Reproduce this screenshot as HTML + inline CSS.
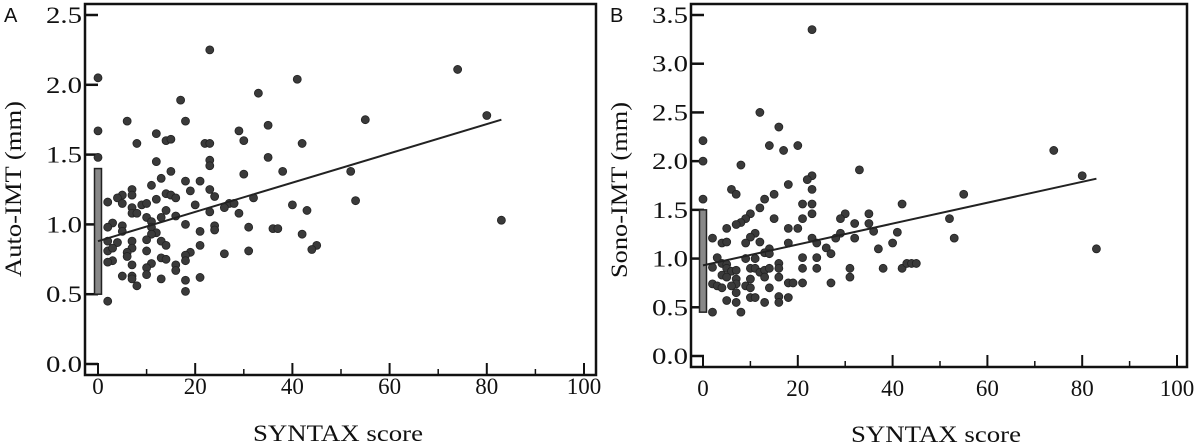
<!DOCTYPE html>
<html><head><meta charset="utf-8"><style>
html,body{margin:0;padding:0;background:#fff;}
svg{display:block;font-family:"Liberation Serif",serif;}
</style></head><body>
<svg id="chart" width="1200" height="444" viewBox="0 0 1200 444" xmlns="http://www.w3.org/2000/svg"></svg>
<script>
// ---- Panel A data (Auto-IMT) ----
const aX = [23,0,74,41,33,17,0,6,18,55,80,12,8,14,15,29,35,42,22,23,30,0,35,12,23,23,15,38,30,52,13,18,21,11,7,7,23,14,15,16,19,24,2,5,4,12,53,32,27,28,26,20,40,5,9,10,43,14,29,7,7,8,23,10,11,13,16,83,3,18,24,24,31,36,37,21,2,5,5,11,12,11,42,2,4,7,10,13,14,45,44,21,2,3,7,6,6,10,31,19,26,18,18,3,2,13,14,11,7,10,16,16,5,7,7,10,21,13,18,8,18,2];
const aY = [2.25,2.05,2.11,2.04,1.94,1.89,1.67,1.74,1.74,1.75,1.78,1.65,1.58,1.60,1.61,1.67,1.71,1.58,1.58,1.58,1.60,1.48,1.48,1.45,1.46,1.42,1.38,1.38,1.36,1.38,1.33,1.31,1.31,1.28,1.25,1.21,1.25,1.22,1.21,1.19,1.24,1.20,1.16,1.21,1.19,1.18,1.17,1.19,1.15,1.15,1.12,1.14,1.14,1.15,1.14,1.15,1.10,1.10,1.08,1.12,1.08,1.08,1.09,1.05,1.02,1.05,1.06,1.03,1.01,1.00,0.99,0.96,0.98,0.97,0.97,0.95,0.98,0.99,0.95,0.98,0.94,0.93,0.93,0.88,0.87,0.88,0.89,0.88,0.85,0.85,0.82,0.85,0.81,0.83,0.83,0.80,0.77,0.81,0.81,0.80,0.79,0.78,0.74,0.74,0.73,0.76,0.75,0.72,0.71,0.69,0.71,0.67,0.63,0.63,0.61,0.64,0.62,0.61,0.60,0.56,0.52,0.45];
const aZeroMin = [0.50]; const aZeroMax = [1.40];
const aFit = [0.88, 1.75];
const aFitX = [0, 83];

// ---- Panel B data (Sono-IMT) ----
const bX = [23,12,16,0,14,20,17,74,0,8,33,80,23,22,18,6,7,23,55,15,0,13,21,23,42,12,23,30,35,10,9,8,7,15,21,29,52,32,35,5,18,20,36,11,29,41,10,2,23,32,53,4,5,9,12,18,24,28,40,83,37,26,27,14,3,4,5,9,11,13,14,21,24,2,5,6,7,10,11,12,13,14,16,16,21,24,31,31,38,42,43,44,45,4,5,7,7,10,13,16,2,3,4,6,9,10,18,19,21,27,14,7,10,11,18,16,16,5,7,13,2,8];
const bY = [3.35,2.50,2.35,2.21,2.16,2.16,2.11,2.11,2.00,1.96,1.91,1.85,1.85,1.81,1.76,1.71,1.66,1.71,1.66,1.66,1.61,1.61,1.56,1.56,1.56,1.52,1.46,1.46,1.46,1.46,1.41,1.37,1.35,1.41,1.41,1.41,1.41,1.36,1.36,1.31,1.31,1.31,1.28,1.26,1.26,1.27,1.22,1.21,1.21,1.21,1.21,1.16,1.17,1.16,1.17,1.16,1.16,1.21,1.16,1.10,1.10,1.11,1.05,1.10,1.01,0.95,0.94,1.00,1.00,1.06,1.05,1.01,1.01,0.91,0.90,0.87,0.88,0.90,0.90,0.86,0.88,0.90,0.95,0.90,0.90,0.90,0.90,0.81,0.90,0.90,0.95,0.95,0.95,0.83,0.81,0.79,0.74,0.79,0.81,0.81,0.74,0.72,0.70,0.72,0.72,0.70,0.75,0.75,0.75,0.75,0.70,0.65,0.60,0.60,0.60,0.61,0.55,0.57,0.55,0.55,0.45,0.45];
const bZeroMin = [0.45]; const bZeroMax = [1.50];
const bFit = [0.93, 1.82];
const bFitX = [0, 83];

const xTicks = [0,20,40,60,80,100];
const xMinor = [10,30,50,70,90];
const aYTicks = ["0.0","0.5","1.0","1.5","2.0","2.5"];
const bYTicks = ["0.0","0.5","1.0","1.5","2.0","2.5","3.0","3.5"];

const NS = "http://www.w3.org/2000/svg";
const svg = document.getElementById('chart');
function mk(tag, attrs, parent, txt){
  const e = document.createElementNS(NS, tag);
  for (const k in attrs) e.setAttribute(k, attrs[k]);
  if (txt !== undefined) e.textContent = txt;
  (parent||svg).appendChild(e);
  return e;
}

function panel(cfg){
  const g = mk('g', {});
  
  
  const sx = v => cfg.x0 + (cfg.x100 - cfg.x0) * v / 100;
  const sy = v => cfg.y0 - (cfg.y0 - cfg.yTop) * v / cfg.yMax;
  const fr = mk('rect', {x:cfg.fl, y:cfg.ft, width:cfg.fr-cfg.fl, height:cfg.fb-cfg.ft, fill:'none', stroke:'#111', 'stroke-width':2.5}, g);
  
  
  cfg.yTicks.forEach(t => {
    const v = parseFloat(t), y = sy(v);
    const tl = mk('line', {x1:cfg.fl, x2:cfg.fl+13, y1:y, y2:y, stroke:'#111', 'stroke-width':2.5}, g);
    
    
    const lb = mk('text', {x:cfg.fl-3, y:y+8, 'text-anchor':'end', 'font-size':23, fill:'#111', textLength:36, lengthAdjust:'spacingAndGlyphs'}, g, t);
    
    
  });
  xTicks.forEach(t => {
    const x = sx(t);
    const tl = mk('line', {x1:x, x2:x, y1:cfg.fb, y2:cfg.fb-12, stroke:'#111', 'stroke-width':2}, g);
    
    
    const lb = mk('text', {x:x, y:cfg.xLabY, 'text-anchor':'middle', 'font-size':23, fill:'#111'}, g, String(t));
    
    
  });
  xMinor.forEach(t => {
    const x = sx(t);
    const tl = mk('line', {x1:x, x2:x, y1:cfg.fb, y2:cfg.fb-6, stroke:'#111', 'stroke-width':1.5}, g);
    
    
  });
  const zc = mk('rect', {x:sx(0)-3.5, y:sy(cfg.zMax[0]), width:7, height:sy(cfg.zMin[0])-sy(cfg.zMax[0]), fill:'#888', stroke:'#222', 'stroke-width':1.5}, g);
  
  
  cfg.xs.forEach((xv, i) => {
    const c = mk('circle', {cx:sx(xv), cy:sy(cfg.ys[i]), r:4, fill:'#3a3a3a', stroke:'#222', 'stroke-width':0.8}, g);
    
    
  });
  const fl = mk('line', {x1:sx(cfg.fitX[0]), y1:sy(cfg.fit[0]), x2:sx(cfg.fitX[1]), y2:sy(cfg.fit[1]), stroke:'#222', 'stroke-width':2}, g);
  
  
  const xt = mk('text', {x:cfg.xTitleX, y:cfg.xTitleY, 'text-anchor':'middle', 'font-size':23, fill:'#111', textLength:170, lengthAdjust:'spacingAndGlyphs'}, g, 'SYNTAX score');
  
  
  const yt = mk('text', {x:0, y:0, 'text-anchor':'middle', 'font-size':23, fill:'#111', transform:`translate(${cfg.yTitleX},${cfg.yTitleY}) rotate(-90)`, textLength:cfg.yTitleLen, lengthAdjust:'spacingAndGlyphs'}, g, cfg.yTitle);
  
  
  const pl = mk('text', {x:cfg.letterX, y:22, 'font-size':20, fill:'#111', 'font-family':'Liberation Sans, sans-serif'}, g, cfg.letter);
  
  
}

panel({name:'panel-a', xs:aX, ys:aY, zMin:aZeroMin, zMax:aZeroMax, fit:aFit, fitX:aFitX, yTicks:aYTicks,
  x0:98, x100:584, y0:364, yTop:15, yMax:2.5, fl:85, fr:596, ft:4, fb:375, xLabY:394,
  xTitleX:338, xTitleY:441, yTitleX:21, yTitleY:189, yTitleLen:176, yTitle:'Auto-IMT (mm)', letter:'A', letterX:4});
panel({name:'panel-b', xs:bX, ys:bY, zMin:bZeroMin, zMax:bZeroMax, fit:bFit, fitX:bFitX, yTicks:bYTicks,
  x0:703, x100:1177, y0:356, yTop:15, yMax:3.5, fl:691, fr:1187, ft:4, fb:367, xLabY:396,
  xTitleX:936, xTitleY:442, yTitleX:627, yTitleY:190, yTitleLen:176, yTitle:'Sono-IMT (mm)', letter:'B', letterX:610});
</script>
</body></html>
